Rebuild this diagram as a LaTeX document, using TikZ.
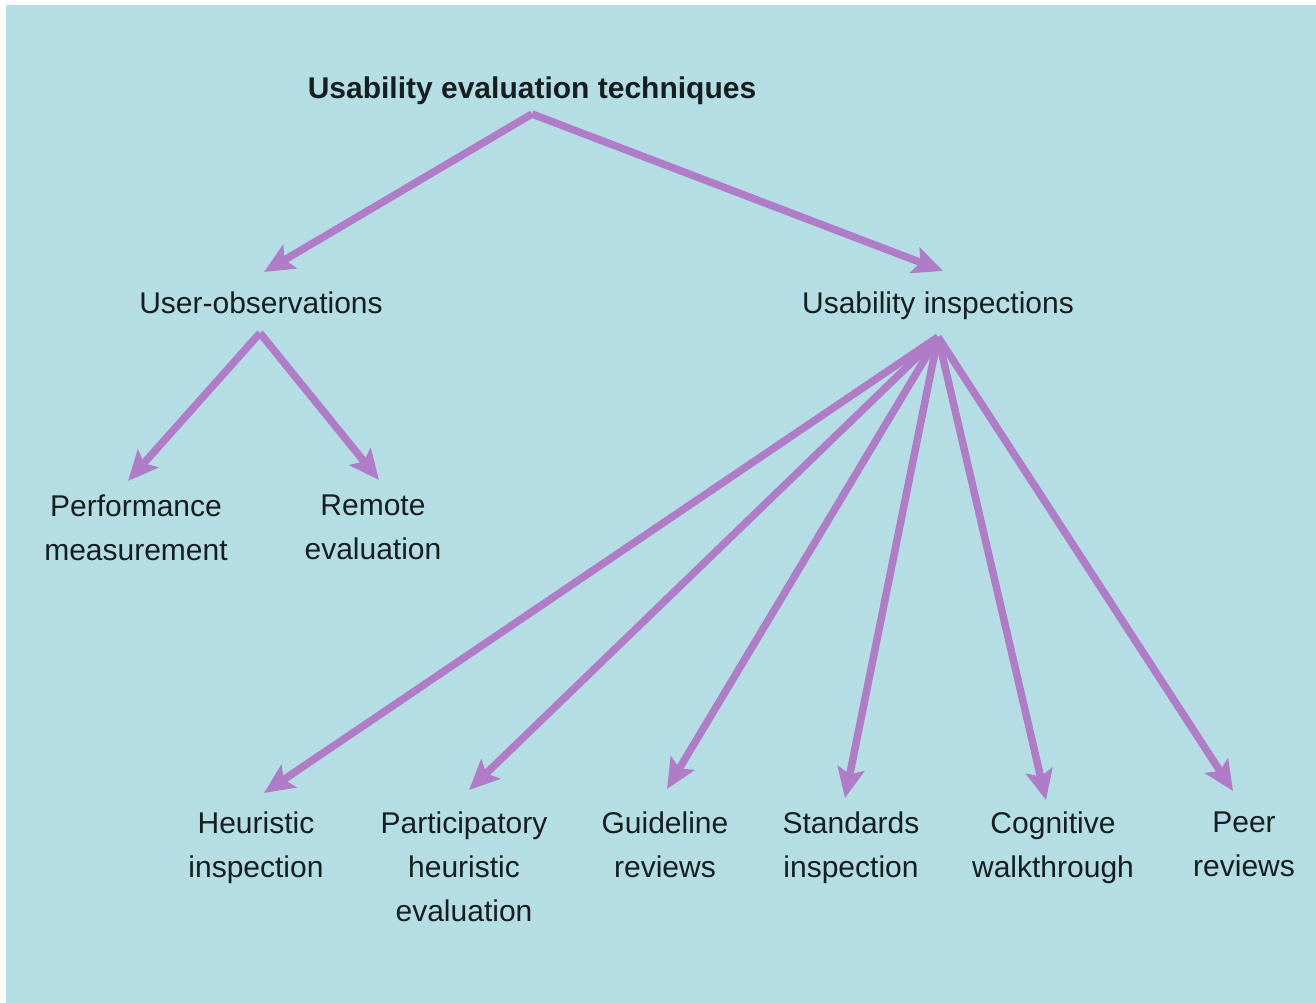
\documentclass[tikz,border=0pt]{standalone}
\usepackage{fontspec}
\setmainfont{Liberation Sans}
\usetikzlibrary{arrows.meta}
\definecolor{bgblue}{RGB}{180,222,227}
\definecolor{arrpurple}{RGB}{176,124,200}
\definecolor{txt}{RGB}{22,30,32}
\tikzset{
  lbl/.style={align=center, inner sep=0pt, text=txt, font=\fontsize{30}{44}\selectfont,
    execute at begin node=\strut, execute at end node=\strut},
  ttl/.style={lbl, font=\fontsize{30}{44}\selectfont\bfseries},
  arr/.style={draw=arrpurple, line width=7.5pt, -{Stealth[length=30pt,width=27pt,inset=6pt]}, arrpurple, line join=round}
}
\begin{document}
\begin{tikzpicture}[x=1pt,y=-1pt]
\useasboundingbox (0,0) rectangle (1316,1003);
\fill[white] (0,0) rectangle (1316,1003);
\fill[bgblue] (6,5) rectangle (1316,1003);

\node[ttl] (uet) at (532,90) {Usability evaluation techniques};
\node[lbl] (uo) at (261,305) {User-observations};
\node[lbl] (ui) at (938,305) {Usability inspections};
\node[lbl] (pm) at (136,534) {Performance\\measurement};
\node[lbl] (re) at (373,534) {Remote\\evaluation};
\node[lbl] (hi) at (256,851) {Heuristic\\inspection};
\node[lbl] (phe) at (464,873) {Participatory\\heuristic\\evaluation};
\node[lbl] (gr) at (665,851) {Guideline\\reviews};
\node[lbl] (si) at (851,851) {Standards\\inspection};
\node[lbl] (cw) at (1053,851) {Cognitive\\walkthrough};
\node[lbl] (pr) at (1244,851) {Peer\\reviews};

\coordinate (a0) at (532,114);
\coordinate (a1) at (260,333);
\coordinate (a2) at (938,337);

\coordinate (t-uo) at (264,272);
\coordinate (t-ui) at (943,271);
\coordinate (t-pm) at (128,481);
\coordinate (t-re) at (379,480);
\coordinate (t-hi) at (264,793);
\coordinate (t-phe) at (469,790);
\coordinate (t-gr) at (667,789);
\coordinate (t-si) at (845,798);
\coordinate (t-cw) at (1046,800);
\coordinate (t-pr) at (1233,791);

\draw[arr] (a0) -- (t-uo);
\draw[arr] (a0) -- (t-ui);
\draw[arr] (a1) -- (t-pm);
\draw[arr] (a1) -- (t-re);
\draw[arr] (a2) -- (t-hi);
\draw[arr] (a2) -- (t-phe);
\draw[arr] (a2) -- (t-gr);
\draw[arr] (a2) -- (t-si);
\draw[arr] (a2) -- (t-cw);
\draw[arr] (a2) -- (t-pr);
\end{tikzpicture}
\end{document}
